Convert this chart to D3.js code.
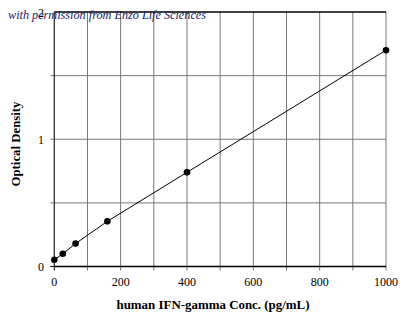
<!DOCTYPE html>
<html><head><meta charset="utf-8">
<script src="https://cdn.jsdelivr.net/npm/d3@7"></script>
<style>body{margin:0;background:#fff}svg{display:block}</style>
</head><body>
<script>
const conc = [0, 25.6, 64, 160, 400, 1000];
const od = [0.053, 0.10, 0.18, 0.355, 0.74, 1.70];
const xTicks = [0, 200, 400, 600, 800, 1000];
const yTicks = [0, 1, 2];
const xGrid = [100,200,300,400,500,600,700,800,900,1000];
const yGrid = [0.5, 1, 1.5];

const W = 407, H = 323;
const svg = d3.select("body").append("svg").attr("width", W).attr("height", H);
const x = d3.scaleLinear().domain([0, 1000]).range([54.3, 386]);
const y = d3.scaleLinear().domain([0, 2]).range([266.5, 12]);

// grid
svg.append("g").selectAll("line").data(xGrid).join("line")
  .attr("x1", d => x(d)).attr("x2", d => x(d)).attr("y1", y(2)).attr("y2", y(0) + 4)
  .attr("stroke", "#777").attr("stroke-width", 1);
svg.append("g").selectAll("line").data(yGrid).join("line")
  .attr("x1", x(0) - 4).attr("x2", x(1000)).attr("y1", d => y(d)).attr("y2", d => y(d))
  .attr("stroke", "#777").attr("stroke-width", 1);
svg.append("line").attr("x1", x(0)).attr("x2", x(0)).attr("y1", y(0)).attr("y2", y(0)+4).attr("stroke","#000");
svg.append("line").attr("x1", x(0)-4).attr("x2", x(0)).attr("y1", y(0)).attr("y2", y(0)).attr("stroke","#000");
svg.append("line").attr("x1", x(0)).attr("x2", x(1000)).attr("y1", y(2)).attr("y2", y(2)).attr("stroke", "#000").attr("stroke-width", 1.3);
svg.append("line").attr("x1", x(0)).attr("x2", x(0)).attr("y1", y(0)).attr("y2", y(2)).attr("stroke", "#333").attr("stroke-width", 1.3);
svg.append("line").attr("x1", x(0)).attr("x2", x(1000)).attr("y1", y(0)).attr("y2", y(0)).attr("stroke", "#000").attr("stroke-width", 1.3);

const font = "'Liberation Serif', 'Times New Roman', serif";
svg.append("g").selectAll("text").data(xTicks).join("text")
  .attr("x", d => x(d)).attr("y", 286).attr("text-anchor", "middle")
  .attr("font-family", font).attr("font-size", 12).attr("fill", "#000").text(d => d);
svg.append("g").selectAll("text").data(yTicks).join("text")
  .attr("x", 44).attr("y", d => y(d) + 4.5).attr("text-anchor", "end")
  .attr("font-family", font).attr("font-size", 12).attr("fill", "#000").text(d => d);

svg.append("text").attr("x", 213).attr("y", 309).attr("text-anchor", "middle")
  .attr("font-family", font).attr("font-size", 13).attr("font-weight", "bold")
  .attr("textLength", 193).attr("lengthAdjust", "spacingAndGlyphs").text("human IFN-gamma Conc. (pg/mL)");
svg.append("text").attr("transform", "translate(20,144) rotate(-90)").attr("text-anchor", "middle")
  .attr("font-family", font).attr("font-size", 13).attr("font-weight", "bold")
  .attr("textLength", 85).attr("lengthAdjust", "spacingAndGlyphs").text("Optical Density");

const pts = conc.map((c, i) => [c, od[i]]);
svg.append("path").datum(pts)
  .attr("d", d3.line().x(d => x(d[0])).y(d => y(d[1])))
  .attr("fill", "none").attr("stroke", "#000").attr("stroke-width", 1);
svg.append("g").selectAll("circle").data(pts).join("circle")
  .attr("cx", d => x(d[0])).attr("cy", d => y(d[1])).attr("r", 3.3).attr("fill", "#000");

svg.append("text").attr("x", 8).attr("y", 19)
  .attr("font-family", font).attr("font-style", "italic").attr("font-size", 12)
  .attr("fill", "#16246a").attr("textLength", 198).attr("lengthAdjust", "spacingAndGlyphs")
  .text("with permission from Enzo Life Sciences");
</script>
</body></html>
